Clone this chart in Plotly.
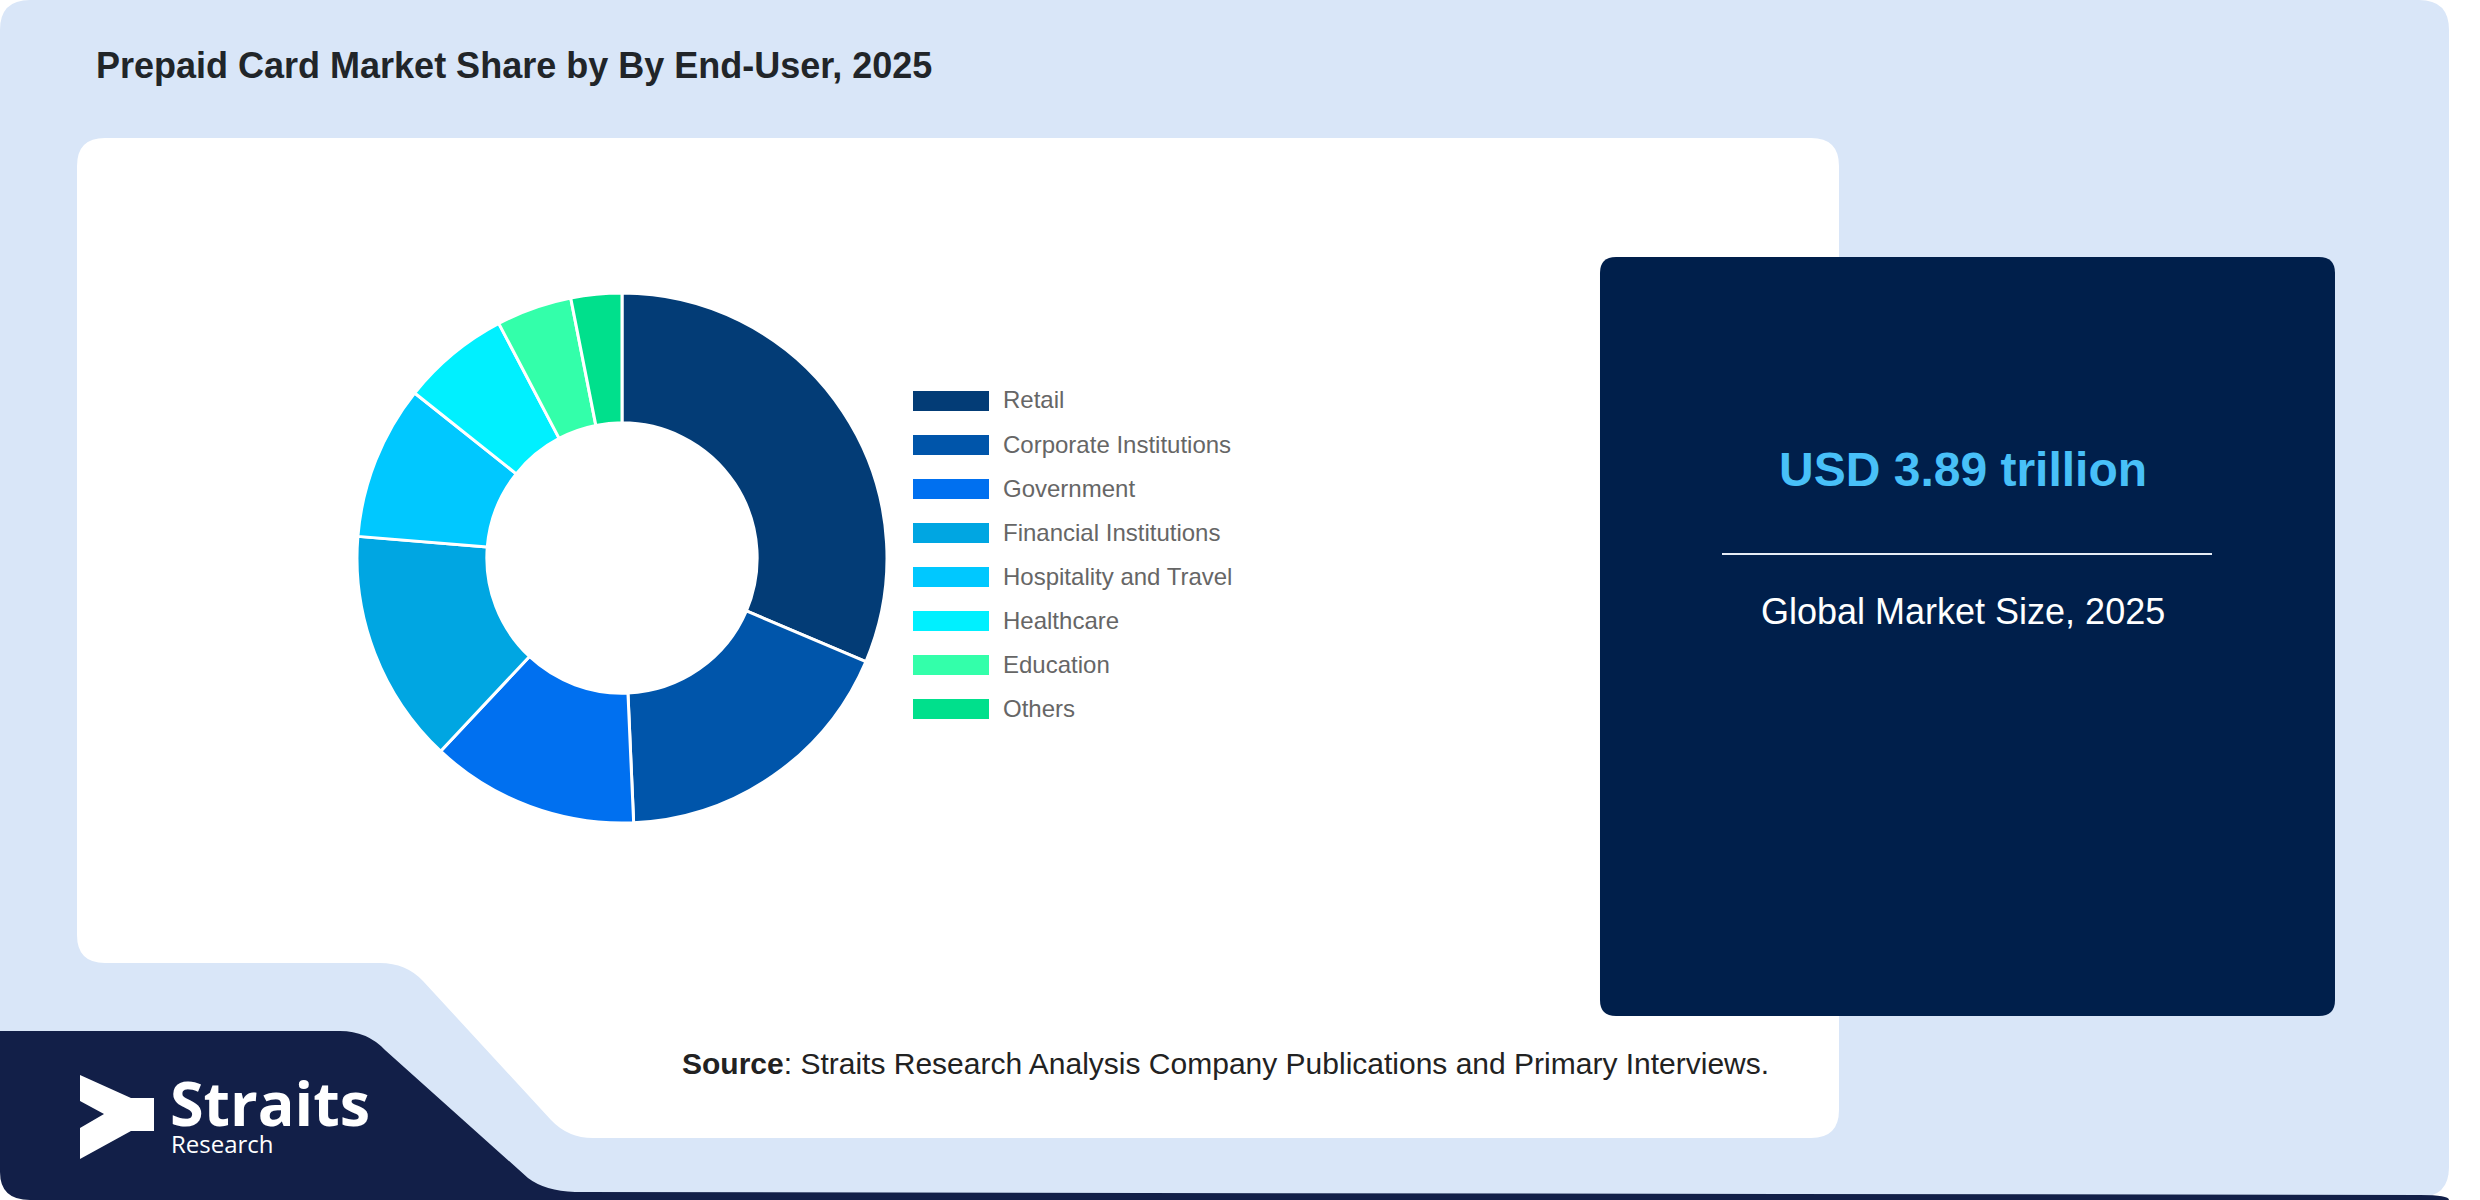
import plotly.graph_objects as go

# values (share of 2025 market, %)
labels = ["Retail", "Corporate Institutions", "Government", "Financial Institutions",
          "Hospitality and Travel", "Healthcare", "Education", "Others"]
shares = [31.4, 17.9, 12.7, 14.3, 9.4, 6.6, 4.6, 3.1]
colors = ["#033C76", "#0055AA", "#0070F0", "#00A6E2", "#00C8FF", "#00F0FF", "#33FFAA", "#00E08C"]

title = "Prepaid Card Market Share by By End-User, 2025"
market_size = "USD 3.89 trillion"
market_label = "Global Market Size, 2025"
source = "<b>Source</b>: Straits Research Analysis Company Publications and Primary Interviews."

W, H = 2480, 1200


def px(x, y):
    return f"{x / W:.5f},{1 - y / H:.5f}"


def rrect(x0, y0, x1, y1, r):
    return (f"M {px(x0 + r, y0)} L {px(x1 - r, y0)} Q {px(x1, y0)} {px(x1, y0 + r)} "
            f"L {px(x1, y1 - r)} Q {px(x1, y1)} {px(x1 - r, y1)} L {px(x0 + r, y1)} "
            f"Q {px(x0, y1)} {px(x0, y1 - r)} L {px(x0, y0 + r)} Q {px(x0, y0)} {px(x0 + r, y0)} Z")


fig = go.Figure()

fig.add_trace(go.Pie(
    labels=labels, values=shares, sort=False, direction="clockwise", rotation=0,
    hole=0.51, textinfo="none", showlegend=False,
    marker=dict(colors=colors, line=dict(color="white", width=3)),
    domain=dict(x=[(622 - 265) / W, (622 + 265) / W], y=[1 - (558 + 265) / H, 1 - (558 - 265) / H]),
))

shapes = []
# page background
shapes.append(dict(type="path", path=rrect(0, 0, 2449, 1197, 30), fillcolor="#D9E6F8",
                   line_width=0, xref="paper", yref="paper", layer="below"))
# navy logo block + bottom strip
navy = (f"M {px(0, 1031)} L {px(340, 1031)} Q {px(367, 1031)} {px(385, 1050)} "
        f"L {px(528, 1178)} Q {px(545, 1191)} {px(575, 1192)} L {px(2420, 1195)} "
        f"Q {px(2449, 1195)} {px(2449, 1200)} L {px(30, 1200)} Q {px(0, 1200)} {px(0, 1172)} Z")
shapes.append(dict(type="path", path=navy, fillcolor="#121F48", line_width=0,
                   xref="paper", yref="paper", layer="below"))
# white chart panel with cut corner
panel = (f"M {px(105, 138)} L {px(1811, 138)} Q {px(1839, 138)} {px(1839, 166)} "
         f"L {px(1839, 1110)} Q {px(1839, 1138)} {px(1811, 1138)} L {px(593, 1138)} "
         f"Q {px(568, 1138)} {px(551, 1120)} L {px(423, 981)} Q {px(406, 963)} {px(380, 963)} "
         f"L {px(105, 963)} Q {px(77, 963)} {px(77, 935)} L {px(77, 166)} Q {px(77, 138)} {px(105, 138)} Z")
shapes.append(dict(type="path", path=panel, fillcolor="white", line_width=0,
                   xref="paper", yref="paper", layer="below"))
# market size box
shapes.append(dict(type="path", path=rrect(1600, 257, 2335, 1016, 16), fillcolor="#001F4B",
                   line_width=0, xref="paper", yref="paper", layer="below"))
shapes.append(dict(type="line", x0=1722 / W, x1=2212 / W, y0=1 - 554 / H, y1=1 - 554 / H,
                   xref="paper", yref="paper", line=dict(color="#E6ECF5", width=2)))
# logo mark
logo = (f"M {px(80, 1075)} L {px(131, 1098)} L {px(154, 1098)} L {px(154, 1131)} "
        f"L {px(131, 1131)} L {px(80, 1159)} L {px(80, 1128)} L {px(104, 1114)} L {px(80, 1101)} Z")
shapes.append(dict(type="path", path=logo, fillcolor="white", line_width=0,
                   xref="paper", yref="paper"))

annotations = []
# legend drawn by hand to get the wide swatches
for i, (lab, col) in enumerate(zip(labels, colors)):
    cy = 401 + 44 * i
    shapes.append(dict(type="rect", x0=913 / W, x1=989 / W, y0=1 - (cy + 10) / H, y1=1 - (cy - 10) / H,
                       xref="paper", yref="paper", fillcolor=col, line_width=0))
    annotations.append(dict(text=lab, x=1001 / W, y=1 - (cy - 1) / H, xref="paper", yref="paper",
                            xanchor="left", yanchor="middle", showarrow=False,
                            font=dict(family="Liberation Sans", size=24, color="#666666")))

annotations += [
    dict(text=f"<b>{title}</b>", x=94 / W, y=1 - 65 / H, xanchor="left", yanchor="middle",
         font=dict(family="Liberation Sans", size=36, color="#212529")),
    dict(text=f"<b>{market_size}</b>", x=1963 / W, y=1 - 470 / H, xanchor="center", yanchor="middle",
         font=dict(family="Liberation Sans", size=48, color="#48C0F8")),
    dict(text=market_label, x=1963 / W, y=1 - 611 / H, xanchor="center", yanchor="middle",
         font=dict(family="Liberation Sans", size=36, color="white")),
    dict(text=source, x=1225 / W, y=1 - 1063 / H, xanchor="center", yanchor="middle",
         font=dict(family="Liberation Sans", size=30, color="#222222")),
    dict(text="<b>Straits</b>", x=168 / W, y=1 - 1102 / H, xanchor="left", yanchor="middle",
         font=dict(family="Open Sans", size=61, color="white")),
    dict(text="Research", x=169 / W, y=1 - 1143 / H, xanchor="left", yanchor="middle",
         font=dict(family="Open Sans", size=24, color="white")),
]
for a in annotations:
    a.setdefault("xref", "paper")
    a.setdefault("yref", "paper")
    a.setdefault("showarrow", False)

fig.update_layout(
    width=W, height=H, margin=dict(l=0, r=0, t=0, b=0),
    paper_bgcolor="white", plot_bgcolor="white",
    shapes=shapes, annotations=annotations, showlegend=False,
)

fig.write_html("out.html", config={"displayModeBar": False},
               post_script="document.body.style.margin='0';")
